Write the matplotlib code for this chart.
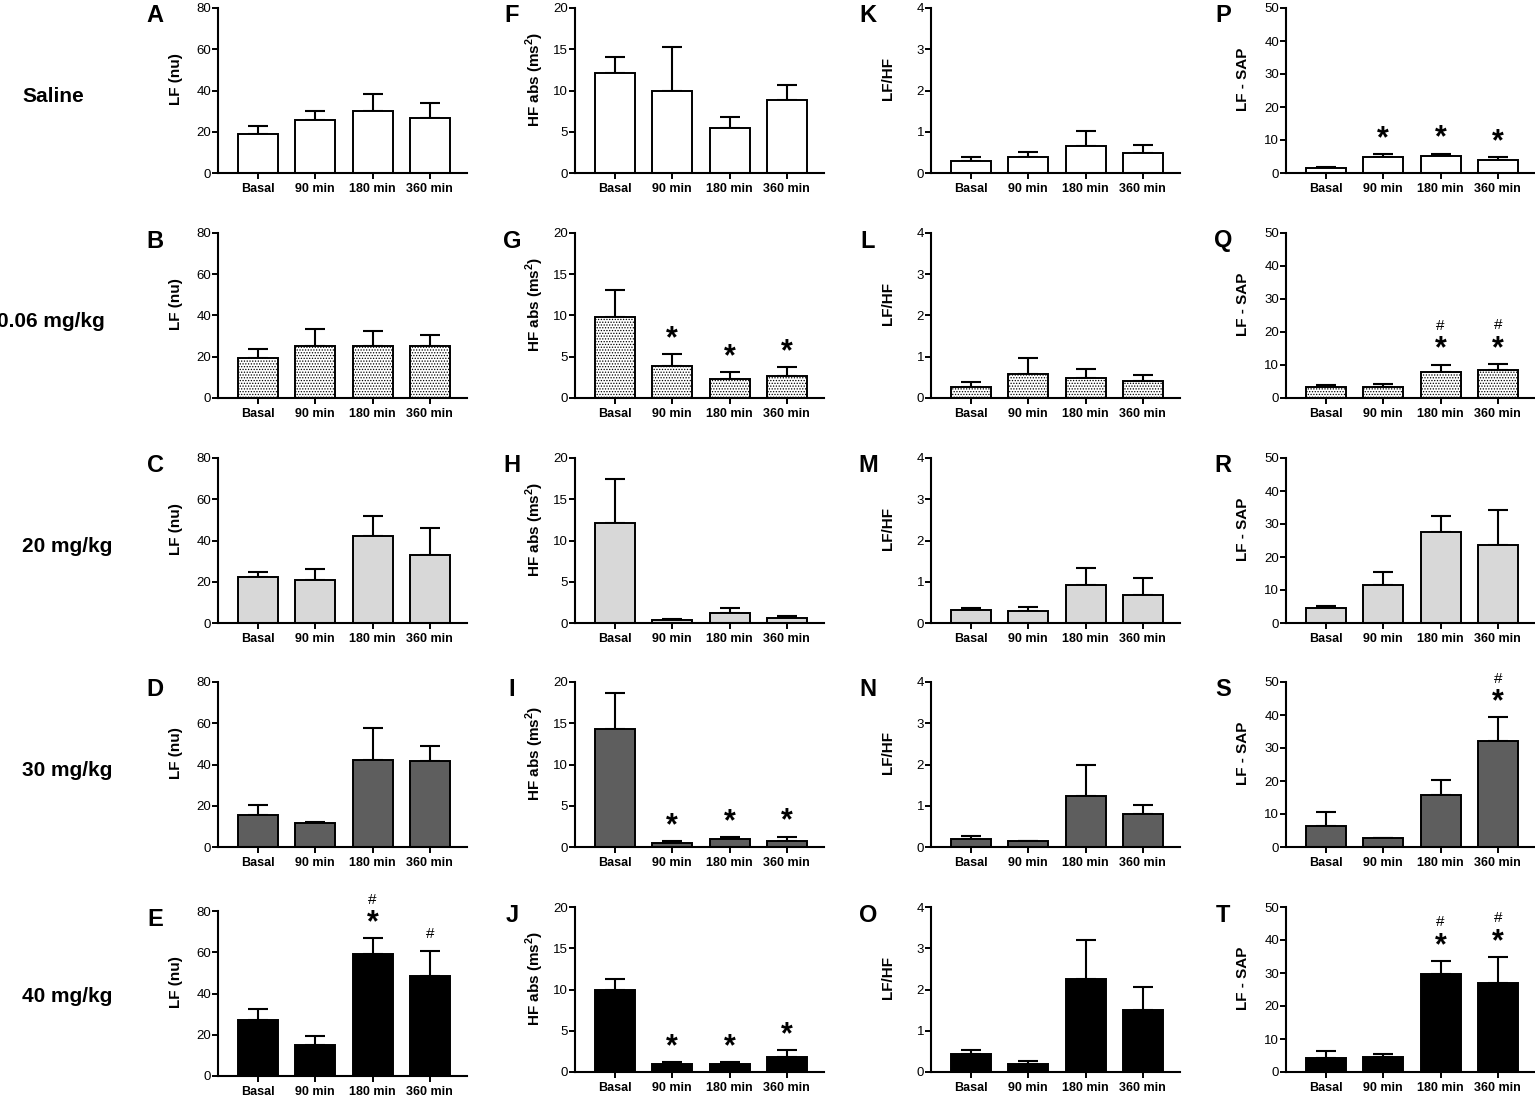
import numpy as np
import matplotlib
matplotlib.use('Agg')
from matplotlib import pyplot as plt

plt.rcParams['font.family'] = ['Liberation Sans', 'DejaVu Sans']
plt.rcParams['mathtext.fontset'] = 'custom'
plt.rcParams['mathtext.rm'] = 'Liberation Sans:bold'
plt.rcParams['mathtext.bf'] = 'Liberation Sans:bold'
plt.rcParams['hatch.color'] = '#7a7a7a'
plt.rcParams['hatch.linewidth'] = 0.6

times = ['Basal', '90 min', '180 min', '360 min']
groups = ['Saline', '0.06 mg/kg', '20 mg/kg', '30 mg/kg', '40 mg/kg']

# LF (nu), panels A-E
lf_nu = [[18.8, 25.7, 30.1, 26.9],
         [19.5, 25.3, 25.0, 25.3],
         [22.4, 21.0, 42.0, 33.2],
         [15.5, 11.6, 42.2, 41.7],
         [27.2, 15.0, 59.3, 48.6]]
lf_nu_err = [[4.2, 4.4, 8.3, 7.1],
             [4.4, 8.3, 7.6, 5.4],
             [2.5, 5.3, 9.7, 13.1],
             [4.9, 0.6, 15.6, 7.3],
             [5.4, 4.4, 7.4, 12.2]]

# HF abs (ms2), panels F-J
hf_abs = [[12.15, 10.0, 5.5, 8.9],
          [9.8, 3.84, 2.35, 2.7],
          [12.07, 0.4, 1.2, 0.57],
          [14.3, 0.53, 0.93, 0.77],
          [9.96, 0.92, 0.92, 1.76]]
hf_abs_err = [[1.95, 5.3, 1.3, 1.75],
              [3.3, 1.5, 0.75, 1.0],
              [5.4, 0.1, 0.63, 0.28],
              [4.4, 0.17, 0.25, 0.49],
              [1.32, 0.32, 0.32, 0.92]]

# LF/HF, panels K-O
lf_hf = [[0.29, 0.39, 0.65, 0.48],
         [0.27, 0.58, 0.48, 0.41],
         [0.31, 0.29, 0.93, 0.68],
         [0.19, 0.14, 1.23, 0.80],
         [0.43, 0.20, 2.25, 1.51]]
lf_hf_err = [[0.10, 0.11, 0.37, 0.20],
             [0.12, 0.39, 0.22, 0.15],
             [0.06, 0.10, 0.40, 0.41],
             [0.07, 0.01, 0.77, 0.21],
             [0.11, 0.07, 0.95, 0.56]]

# LF - SAP, panels P-T
lf_sap = [[1.5, 4.9, 5.3, 4.0],
          [3.2, 3.2, 8.0, 8.4],
          [4.5, 11.6, 27.6, 23.5],
          [6.4, 2.7, 15.7, 32.0],
          [4.3, 4.6, 29.6, 26.9]]
lf_sap_err = [[0.3, 0.8, 0.6, 0.9],
              [0.6, 1.15, 2.1, 1.9],
              [0.7, 3.9, 4.8, 10.6],
              [4.3, 0.1, 4.6, 7.3],
              [2.0, 1.0, 4.1, 8.0]]

# significance marks ('*' vs basal, '#' vs saline)
none = ['', '', '', '']
lf_nu_sig = [none, none, none, none, ['', '', '#*', '#']]
hf_abs_sig = [none, ['', '*', '*', '*'], none, ['', '*', '*', '*'], ['', '*', '*', '*']]
lf_hf_sig = [none, none, none, none, none]
lf_sap_sig = [['', '*', '*', '*'], ['', '', '#*', '#*'], none, ['', '', '', '#*'], ['', '', '#*', '#*']]

columns = [
    (lf_nu, lf_nu_err, lf_nu_sig, 'LF (nu)', [0, 20, 40, 60, 80], 'ABCDE'),
    (hf_abs, hf_abs_err, hf_abs_sig, r'HF abs (ms$^{2}$)', [0, 5, 10, 15, 20], 'FGHIJ'),
    (lf_hf, lf_hf_err, lf_hf_sig, 'LF/HF', [0, 1, 2, 3, 4], 'KLMNO'),
    (lf_sap, lf_sap_err, lf_sap_sig, 'LF - SAP', [0, 10, 20, 30, 40, 50], 'PQRST'),
]

fills = ['white', 'white', '#d8d8d8', '#5e5e5e', 'black']
hatches = [None, '......', None, None, None]

W, H = 1535, 1096
fig = plt.figure(figsize=(W / 100, H / 100), dpi=100)

col_left = [218, 575, 931, 1286]
ylab_x = [-0.14, -0.115, -0.145, -0.145]
row_top = [8, 233, 458, 682, 907]
ax_w, ax_h = 249, 165

for c, (vals, errs, sigs, ylab, yticks, letters) in enumerate(columns):
    for r in range(5):
        top = row_top[r] + (4 if (c == 0 and r == 4) else 0)
        ax = fig.add_axes([col_left[c] / W, 1 - (top + ax_h) / H, ax_w / W, ax_h / H])
        x = np.arange(len(times))
        ax.bar(x, vals[r], width=0.7, color=fills[r], edgecolor='black',
               linewidth=1.4, hatch=hatches[r], zorder=2)
        ax.errorbar(x, vals[r], yerr=[np.zeros(4), errs[r]], fmt='none',
                    ecolor='black', elinewidth=1.5, capsize=7, capthick=1.5, zorder=1)
        ax.set_xlim(-0.7, 3.65)
        ax.set_ylim(0, yticks[-1])
        ax.set_yticks(yticks)
        ax.set_xticks(x)
        ax.set_xticklabels(times, fontsize=9, fontweight='bold')
        ax.tick_params(axis='y', labelsize=9.5, length=4, width=1.4, pad=1)
        ax.tick_params(axis='x', length=4, width=1.4, pad=3)
        for s in ['top', 'right']:
            ax.spines[s].set_visible(False)
        for s in ['left', 'bottom']:
            ax.spines[s].set_linewidth(1.5)
        ax.set_ylabel(ylab, fontsize=11, fontweight='bold')
        ax.yaxis.set_label_coords(ylab_x[c], 0.57)

        for i, mark in enumerate(sigs[r]):
            ytop = vals[r][i] + errs[r][i]
            if '*' in mark:
                ax.annotate('*', (x[i], ytop), xytext=(0, 5), textcoords='offset points',
                            ha='center', va='baseline', fontsize=22, fontweight='bold',
                            annotation_clip=False)
                if '#' in mark:
                    ax.annotate('#', (x[i], ytop), xytext=(0, 25), textcoords='offset points',
                                ha='center', va='baseline', fontsize=11,
                                annotation_clip=False)
            elif '#' in mark:
                ax.annotate('#', (x[i], ytop), xytext=(0, 9), textcoords='offset points',
                            ha='center', va='baseline', fontsize=11,
                            annotation_clip=False)

        fig.text((col_left[c] - 63) / W, 1 - (top + 8) / H, letters[r],
                 fontsize=17, fontweight='bold', ha='center', va='center')

for r, g in enumerate(groups):
    xpos = -3 if g.startswith('0.06') else 22
    fig.text(xpos / W, 1 - (row_top[r] + 89) / H, g, fontsize=15,
             fontweight='bold', ha='left', va='center')

fig.savefig('out.png', dpi=100)
